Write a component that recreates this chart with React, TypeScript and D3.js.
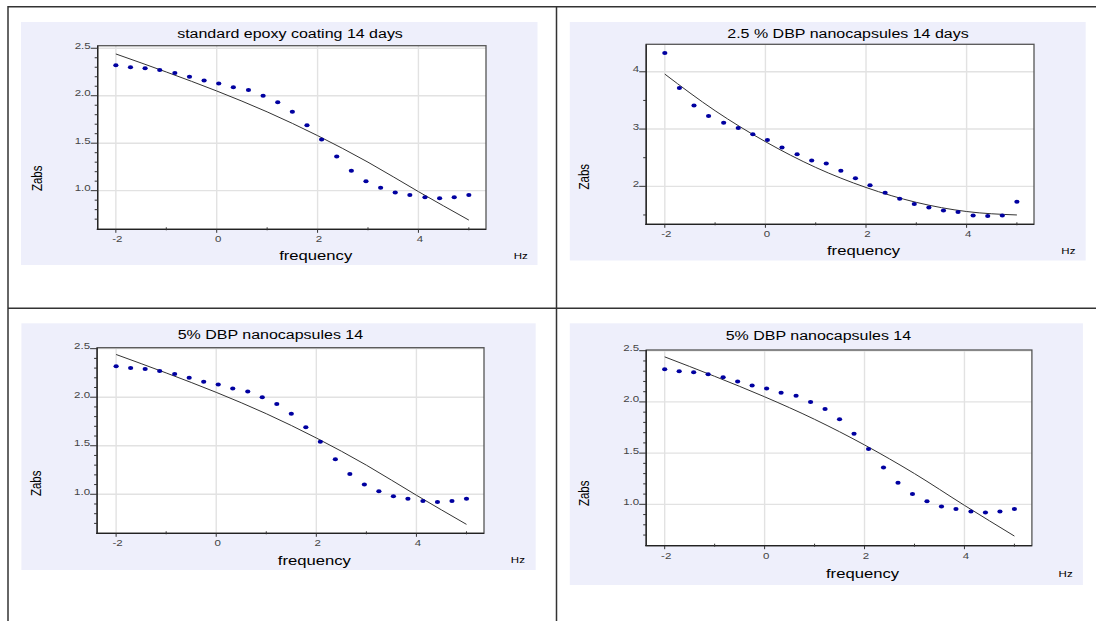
import React from "react";
import * as d3 from "d3";

// measured frequencies (log Hz) of the 25 impedance points
const frequency = [
  -2.0, -1.71, -1.42, -1.13, -0.83, -0.54, -0.25, 0.04, 0.33, 0.63, 0.92, 1.21, 1.5,
  1.79, 2.08, 2.38, 2.67, 2.96, 3.25, 3.54, 3.83, 4.13, 4.42, 4.71, 5.0,
];

// |Z| readings
const zabsEpoxy = [
  2.32, 2.3, 2.29, 2.27, 2.24, 2.2, 2.16, 2.13, 2.09, 2.06, 2.0, 1.93, 1.83, 1.69, 1.54,
  1.36, 1.21, 1.1, 1.03, 0.98, 0.955, 0.93, 0.92, 0.93, 0.955,
];
const zabsDbp25 = [
  4.33, 3.715, 3.41, 3.23, 3.11, 3.02, 2.91, 2.81, 2.68, 2.56, 2.45, 2.4, 2.27, 2.14, 2.02,
  1.89, 1.785, 1.69, 1.63, 1.58, 1.55, 1.49, 1.48, 1.49, 1.73,
];

// fitted curves
const fitFreq = [-2, -1, 0, 1, 2, 3, 4, 5];
const fitEpoxy = [2.44, 2.25, 2.05, 1.83, 1.58, 1.3, 0.99, 0.69];
const fitDbp25 = [3.96, 3.32, 2.78, 2.33, 1.98, 1.72, 1.56, 1.5];

const titles = [
  "standard epoxy coating 14 days",
  "2.5 % DBP nanocapsules 14 days",
  "5% DBP nanocapsules 14",
  "5% DBP nanocapsules 14",
];

const xTicks = [-2, 0, 2, 4];
const xMinor = [-1, 1, 3, 5];
const yTicksLow = [1.0, 1.5, 2.0, 2.5];
const yMinorLow = [0.7, 0.8, 0.9, 1.1, 1.2, 1.3, 1.4, 1.6, 1.7, 1.8, 1.9, 2.1, 2.2, 2.3, 2.4];
const yTicksHigh = [2, 3, 4];
const yMinorHigh = [1.5, 2.5, 3.5];

const FONT = "'Liberation Sans', Arial, sans-serif";
const SX = 1.28; // the original picture is stretched sideways

function T(props: any) {
  const { x, y, size, anchor = "middle", fill = "#000", rotate = false, children } = props;
  const tr = `translate(${x},${y}) scale(${SX},1)` + (rotate ? " rotate(-90)" : "");
  return (
    <text transform={tr} fontSize={size} textAnchor={anchor} fill={fill} fontFamily={FONT}>
      {children}
    </text>
  );
}

function Panel(props: any) {
  const { p, title, values, fit, yTicks, yMinor, yFmt } = props;
  const [l, t, r, b] = p.frame;
  const x = d3.scaleLinear().domain(p.xDom).range([l, r]);
  const y = d3.scaleLinear().domain(p.yDom).range([b, t]);
  const line = d3
    .line<number>()
    .x((_, i) => x(fitFreq[i]))
    .y((d) => y(d))
    .curve(d3.curveMonotoneX);
  const fmt = d3.format(yFmt);

  return (
    <g>
      <rect x={p.bg[0]} y={p.bg[1]} width={p.bg[2] - p.bg[0]} height={p.bg[3] - p.bg[1]} fill="#eeeffb" />
      <rect x={l} y={t} width={r - l} height={b - t} fill="#fff" />
      {xTicks.map((v) => (
        <line key={"gx" + v} x1={x(v)} x2={x(v)} y1={t} y2={b} stroke="#e2e2e2" strokeWidth={1.4} />
      ))}
      {yTicks.map((v: number) => (
        <line key={"gy" + v} x1={l} x2={r} y1={y(v)} y2={y(v)} stroke="#e2e2e2" strokeWidth={1.4} />
      ))}
      <rect x={l} y={t} width={r - l} height={b - t} fill="none" stroke="#555" strokeWidth={1.3} />
      <line x1={l} x2={l} y1={t} y2={b} stroke="#222" strokeWidth={1.3} />
      <line x1={l - 1} x2={r} y1={b} y2={b} stroke="#222" strokeWidth={1.3} />

      {/* y axis ticks */}
      {yTicks.map((v: number) => (
        <g key={"ty" + v}>
          <line x1={l - 7} x2={l} y1={y(v)} y2={y(v)} stroke="#333" strokeWidth={1} />
          <T x={l - 7} y={y(v) + 0.5} size={9} anchor="end" fill="#444">
            {fmt(v)}
          </T>
        </g>
      ))}
      {yMinor.map((v: number) => (
        <line key={"my" + v} x1={l - 3} x2={l} y1={y(v)} y2={y(v)} stroke="#333" strokeWidth={1} />
      ))}

      {/* x axis ticks */}
      {xTicks.map((v) => (
        <g key={"tx" + v}>
          <line x1={x(v)} x2={x(v)} y1={b} y2={b + 3.5} stroke="#333" strokeWidth={1} />
          <T x={x(v) + 1.5} y={b + 13} size={9} fill="#444">
            {v < 0 ? "-" + Math.abs(v) : String(v)}
          </T>
        </g>
      ))}
      {xMinor.map((v) => (
        <line key={"mx" + v} x1={x(v)} x2={x(v)} y1={b - 2} y2={b + 1} stroke="#333" strokeWidth={1} />
      ))}

      <path d={line(fit) || ""} fill="none" stroke="#333" strokeWidth={1} />
      {values.map((v: number, i: number) => (
        <ellipse key={"d" + i} cx={x(frequency[i])} cy={y(v)} rx={2.6} ry={2.0} fill="#0000a0" />
      ))}

      <T x={p.title[0]} y={p.title[1]} size={12.5}>
        {title}
      </T>
      <T x={p.xLab[0]} y={p.xLab[1]} size={13}>
        frequency
      </T>
      <T x={p.hz[0]} y={p.hz[1]} size={9}>
        Hz
      </T>
      <T x={p.yLab[0]} y={p.yLab[1]} size={11.5} rotate>
        Zabs
      </T>
    </g>
  );
}

const layouts = [
  {
    bg: [21, 22, 537.5, 265],
    frame: [97.7, 45.7, 486, 229.3],
    xDom: [-2.36, 5.34],
    yDom: [0.593, 2.527],
    title: [290, 38],
    xLab: [315.7, 259.5],
    hz: [520.7, 259],
    yLab: [41.7, 178.3],
  },
  {
    bg: [569.8, 22, 1085.7, 260.5],
    frame: [646.2, 44.3, 1034, 224.3],
    xDom: [-2.37, 5.34],
    yDom: [1.337, 4.48],
    title: [848, 38],
    xLab: [863.5, 254.5],
    hz: [1068.4, 253.5],
    yLab: [588.5, 176.7],
  },
  {
    bg: [21.4, 323.3, 535.7, 570],
    frame: [97.1, 347.7, 484, 533.3],
    xDom: [-2.38, 5.35],
    yDom: [0.598, 2.51],
    title: [270.4, 339],
    xLab: [314.3, 564.5],
    hz: [517.9, 563],
    yLab: [40.7, 483.3],
  },
  {
    bg: [569.8, 323.3, 1082.9, 585],
    frame: [646.2, 350, 1031.9, 545.7],
    xDom: [-2.37, 5.35],
    yDom: [0.596, 2.507],
    title: [818.4, 340],
    xLab: [862.5, 578],
    hz: [1065.6, 577],
    yLab: [589.2, 493.3],
  },
];

export default function App() {
  const W = 1096;
  const H = 621;
  return (
    <svg
      width={W}
      height={H}
      style={{ position: "absolute", left: 0, top: 0, background: "#fff" }}
    >
      <rect x={0} y={0} width={W} height={H} fill="#fff" />
      <Panel p={layouts[0]} title={titles[0]} values={zabsEpoxy} fit={fitEpoxy} yTicks={yTicksLow} yMinor={yMinorLow} yFmt=".1f" />
      <Panel p={layouts[1]} title={titles[1]} values={zabsDbp25} fit={fitDbp25} yTicks={yTicksHigh} yMinor={yMinorHigh} yFmt="d" />
      <Panel p={layouts[2]} title={titles[2]} values={zabsEpoxy} fit={fitEpoxy} yTicks={yTicksLow} yMinor={yMinorLow} yFmt=".1f" />
      <Panel p={layouts[3]} title={titles[3]} values={zabsEpoxy} fit={fitEpoxy} yTicks={yTicksLow} yMinor={yMinorLow} yFmt=".1f" />

      {/* table rules */}
      <line x1={8} x2={W} y1={6.7} y2={6.7} stroke="#333" strokeWidth={1.5} />
      <line x1={8} x2={W} y1={308.3} y2={308.3} stroke="#333" strokeWidth={1.5} />
      <line x1={8} x2={8} y1={6} y2={H} stroke="#333" strokeWidth={1.5} />
      <line x1={556.5} x2={556.5} y1={6} y2={H} stroke="#333" strokeWidth={1.5} />
    </svg>
  );
}
